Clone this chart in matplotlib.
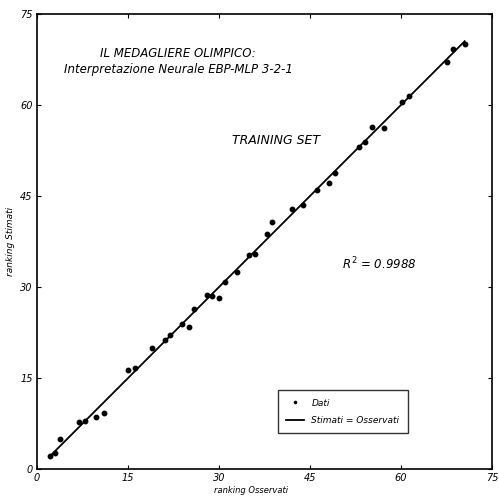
import matplotlib
matplotlib.use("Agg")
import matplotlib.pyplot as plt

# ranking osservati vs ranking stimati (training set)
osservati = [2.1, 2.9, 3.8, 7.0, 8.0, 9.8, 11.0, 15.0, 16.1, 19.0,
             21.1, 22.0, 23.9, 25.0, 25.9, 28.0, 28.9, 30.0, 31.0, 33.0,
             34.9, 35.9, 37.9, 38.8, 42.0, 43.9, 46.1, 48.1, 49.1, 53.1,
             54.0, 55.3, 57.2, 60.2, 61.3, 67.5, 68.5, 70.5]
stimati = [2.2, 2.75, 5.0, 7.7, 7.9, 8.6, 9.3, 16.3, 16.6, 20.0,
           21.3, 22.1, 24.0, 23.4, 26.4, 28.7, 28.5, 28.2, 30.8, 32.5,
           35.3, 35.5, 38.8, 40.7, 42.8, 43.5, 46.0, 47.1, 48.8, 53.0,
           53.9, 56.4, 56.2, 60.5, 61.5, 67.0, 69.2, 70.0]
ticks = [0, 15, 30, 45, 60, 75]

fig = plt.figure(figsize=(4.99, 4.96), dpi=100)
ax = fig.add_axes([0.074, 0.054, 0.912, 0.918])

ax.plot(osservati, stimati, "o", color="black", ms=3.2, label="Dati")
lo, hi = min(osservati), max(osservati)
ax.plot([lo, hi], [lo, hi], "-", color="black", lw=1.3, label="Stimati = Osservati")

ax.set_xlim(0, 75)
ax.set_ylim(0, 75)
ax.set_xticks(ticks)
ax.set_yticks(ticks)
ax.tick_params(direction="in", top=True, right=True, labelsize=7, length=3, pad=3)
for lab in ax.get_xticklabels() + ax.get_yticklabels():
    lab.set_style("italic")
for s in ax.spines.values():
    s.set_linewidth(1.2)

ax.set_xlabel("ranking Osservati", fontsize=6, style="italic")
ax.xaxis.set_label_coords(0.47, -0.036)
ax.set_ylabel("ranking Stimati", fontsize=6.5, style="italic", labelpad=4)

ax.text(0.31, 0.914, "IL MEDAGLIERE OLIMPICO:", transform=ax.transAxes,
        ha="center", va="center", fontsize=8.5, style="italic")
ax.text(0.31, 0.877, "Interpretazione Neurale EBP-MLP 3-2-1", transform=ax.transAxes,
        ha="center", va="center", fontsize=8.5, style="italic")
ax.text(0.429, 0.723, "TRAINING SET", transform=ax.transAxes,
        ha="left", va="center", fontsize=9, style="italic")
ax.text(0.67, 0.45, "$R^2$ = 0.9988", transform=ax.transAxes,
        ha="left", va="center", fontsize=8.5, style="italic")

leg = ax.legend(loc="lower left", bbox_to_anchor=(0.52, 0.07), fontsize=6.5,
                frameon=True, fancybox=False, edgecolor="black", markerscale=0.5,
                prop={"style": "italic", "size": 6.5}, borderpad=0.9,
                labelspacing=0.9, handlelength=2.0)
leg.get_frame().set_linewidth(1.0)

fig.savefig("out.png", dpi=100)
